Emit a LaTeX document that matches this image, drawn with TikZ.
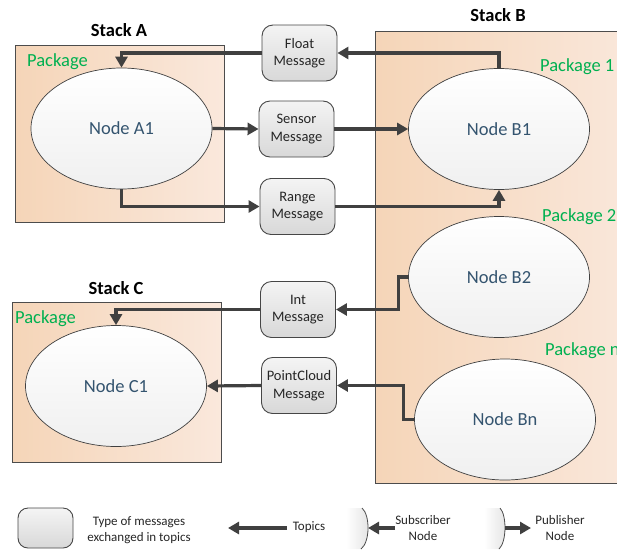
\documentclass[tikz,border=0pt]{standalone}
\usepackage{fontspec}
\setmainfont{Carlito}
\usetikzlibrary{shapes.geometric,arrows.meta}
\definecolor{arrowc}{HTML}{404040}
\definecolor{nodetxt}{HTML}{34546F}
\definecolor{pkggreen}{HTML}{00B050}
\definecolor{peachL}{HTML}{F5D5B8}
\definecolor{peachR}{HTML}{FAE8DC}
\definecolor{msgtop}{HTML}{F4F4F4}
\definecolor{msgbot}{HTML}{D8D8D8}
\begin{document}
\begin{tikzpicture}[x=1pt,y=-1pt,
 stackbox/.style={draw=gray!60!black, line width=0.9pt, left color=peachL, right color=peachR},
 rosnode/.style={ellipse, draw=black!75, line width=0.7pt, top color=white, bottom color=gray!12, minimum width=181pt, minimum height=121pt, inner sep=0pt, text=nodetxt, font=\fontsize{18.5}{20}\selectfont},
 msg/.style={rectangle, rounded corners=11pt, draw=gray!55!black, line width=0.9pt, top color=msgtop, bottom color=msgbot, minimum width=75pt, minimum height=56pt, inner sep=1pt, align=center, font=\fontsize{14.5}{17.5}\selectfont, text=black!85},
 pkg/.style={text=pkggreen, font=\fontsize{18.5}{20}\selectfont, anchor=west, inner sep=0pt},
 stacktitle/.style={font=\bfseries\fontsize{18.5}{20}\selectfont},
 arr/.style={draw=arrowc, line width=3.2pt, -{Triangle[length=11pt,width=12pt]}},
 legtxt/.style={font=\fontsize{13}{16}\selectfont, align=center, text=black!85},
 legarc/.style={draw=black!70, line width=0.8pt}]
\useasboundingbox (0,0) rectangle (617,549);
\clip (0,0) rectangle (617,549);

% stacks
\draw[stackbox] (15,45) rectangle (224,222);
\draw[stackbox] (375,31) rectangle (640,483);
\draw[stackbox] (12,302) rectangle (221,462);
\node[stacktitle] (tA) at (119,30) {Stack A};
\node[stacktitle] (tB) at (498,15) {Stack B};
\node[stacktitle] (tC) at (116,288) {Stack C};
\node[pkg] (pA) at (27,62) {Package};
\node[pkg] (pB1) at (540,67) {Package 1};
\node[pkg] (pB2) at (542,217) {Package 2};
\node[pkg] (pBn) at (545,351) {Package n};
\node[pkg] (pC) at (15,319) {Package};

% ROS nodes
\node[rosnode] (A1) at (121.5,128.5) {Node A1};
\node[rosnode] (B1) at (499,129) {Node B1};
\node[rosnode] (B2) at (499,277) {Node B2};
\node[rosnode] (Bn) at (505,419.5) {Node Bn};
\node[rosnode] (C1) at (116,386) {Node C1};

% messages
\node[msg] (float) at (299.5,53) {Float\\Message};
\node[msg] (sensor) at (296.5,129) {Sensor\\Message};
\node[msg] (range) at (297.5,206.5) {Range\\Message};
\node[msg] (int) at (298,309.5) {Int\\Message};
\node[msg] (pc) at (299,385.5) {PointCloud\\Message};

% connectors
\draw[arr] (B1.north) |- (float.east);
\draw[arr] (float.west) -| (A1.north);
\draw[arr] (A1.east) -- (sensor.west);
\draw[arr] (sensor.east) -- (B1.west);
\draw[arr] (A1.south) |- (range.west);
\draw[arr] (range.east) -| (B1.south);
\draw[arr] (B2.west) -- ++(-10,0) |- (int.east);
\draw[arr] (int.west) -| (C1.north);
\draw[arr] (Bn.west) -- ++(-11,0) |- (pc.east);
\draw[arr] (pc.west) -- (C1.east);

% legend
\node[msg, minimum width=55pt, minimum height=40pt, rounded corners=10pt] (legbox) at (45.5,528) {};
\node[legtxt] (legtext) at (139,530) {Type of messages\\exchanged in topics};
\coordinate (ta) at (287,528);
\coordinate (tb) at (228,528);
\draw[arr] (ta) -- (tb);
\node[legtxt] (topics) at (309,527) {Topics};

\shade[left color=white, right color=gray!22] (346,508) -- (362,508) .. controls (370.2,515) and (370.2,542) .. (361,549) -- (346,549) -- cycle;
\draw[legarc] (362,508) .. controls (370.2,515) and (370.2,542) .. (361,549);
\coordinate (sa) at (395,528);
\coordinate (sb) at (368,528);
\draw[arr] (sa) -- (sb);
\node[legtxt] (subtxt) at (423,528) {Subscriber\\Node};

\shade[left color=white, right color=gray!22] (484,508) -- (500,508) .. controls (506.8,515) and (506.8,542) .. (499,549) -- (484,549) -- cycle;
\draw[legarc] (500,508) .. controls (506.8,515) and (506.8,542) .. (499,549);
\coordinate (pa) at (505,528);
\coordinate (pb) at (531,528);
\draw[arr] (pa) -- (pb);
\node[legtxt] (pubtxt) at (560,528) {Publisher\\Node};
\end{tikzpicture}
\end{document}
